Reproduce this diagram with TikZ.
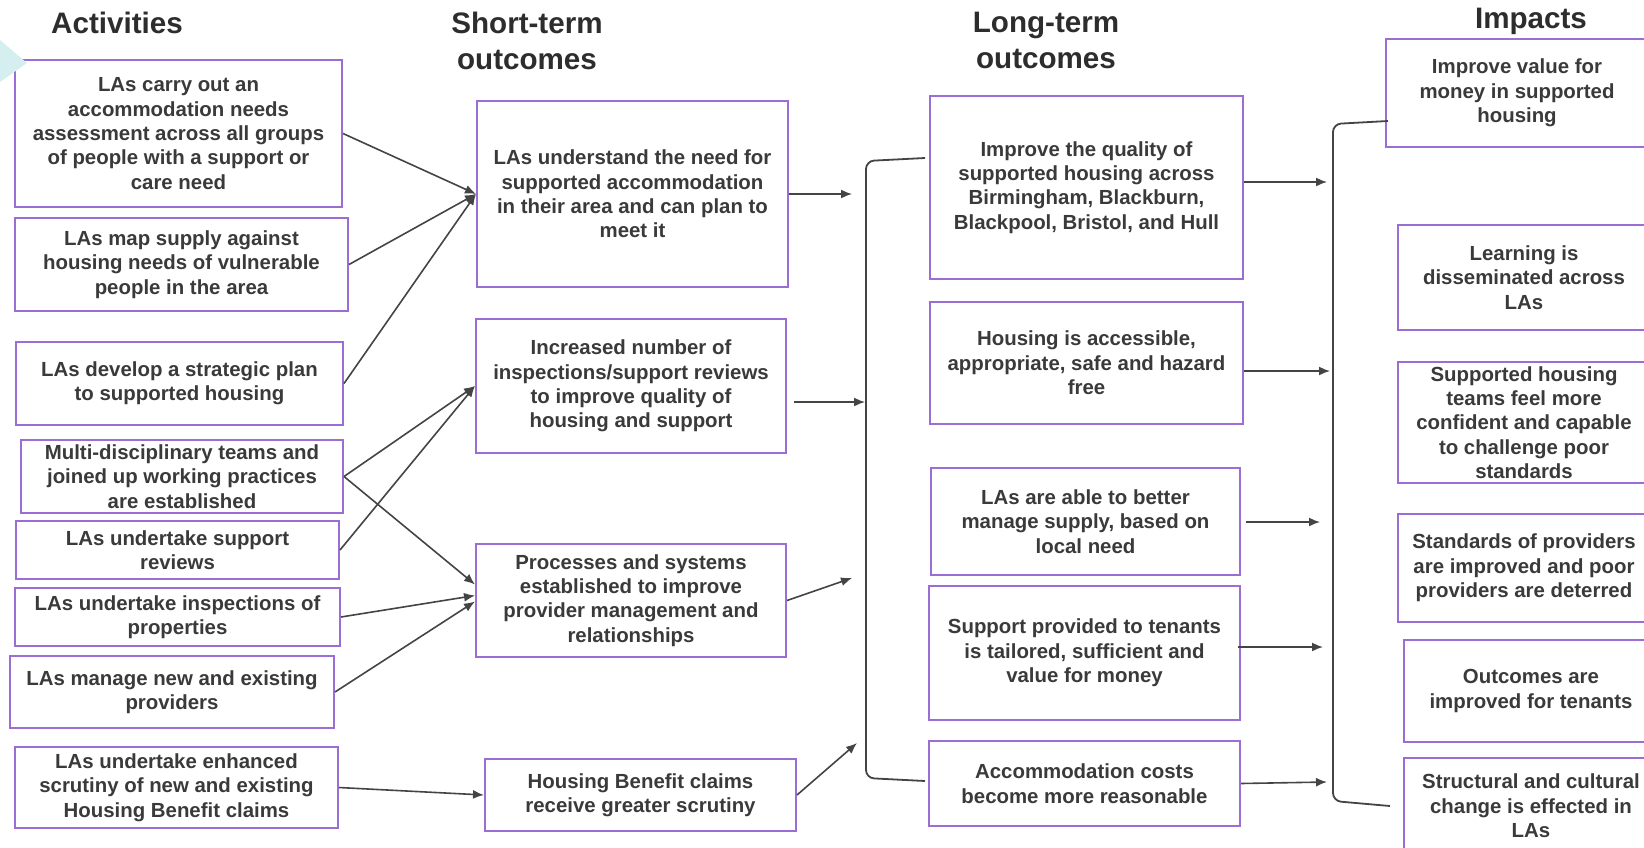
\documentclass[tikz,border=0pt]{standalone}
\usepackage{fontspec}
\setmainfont{Liberation Sans}
\usetikzlibrary{arrows.meta,calc}

\definecolor{boxline}{RGB}{155,110,214}
\definecolor{ink}{RGB}{58,58,58}
\definecolor{headink}{RGB}{45,45,45}
\definecolor{wire}{RGB}{68,68,68}
\definecolor{tabfill}{RGB}{213,238,240}

% a framed box given by its left, top, right and bottom edges (in px)
\newcommand{\tocbox}[6]{%
  \node[box, minimum width={(#4-#2)*0.5pt}, minimum height={(#5-#3)*0.5pt}]
    (#1) at ({(#2+#4)/2},{(#3+#5)/2}) {#6};}

\begin{document}
\begin{tikzpicture}[x=0.5pt,y=-0.5pt,
  box/.style={draw=boxline,line width=1pt,fill=white,align=center,inner sep=0pt,
    text=ink,font=\fontsize{10.2}{12.2}\selectfont\bfseries},
  head/.style={font=\fontsize{14.8}{18}\selectfont\bfseries,text=headink,
    align=center,inner sep=0pt,anchor=north},
  link/.style={draw=wire,line width=0.8pt,-{Latex[length=5.5pt,width=4.5pt]}},
  rail/.style={draw=wire,line width=0.9pt,rounded corners=4pt}]

\useasboundingbox (0,0) rectangle (1644,847);

% column headings
\node[head] (hact) at (117,12) {Activities};
\node[head] (hst)  at (527,12) {Short-term\\outcomes};
\node[head] (hlt)  at (1046,12) {Long-term\\outcomes};
\node[head] (himp) at (1531,8) {Impacts};

% activities
\tocbox{a1}{15}{60}{342}{207}{LAs carry out an\\accommodation needs\\assessment across all groups\\of people with a support or\\care need}
\tocbox{a2}{15}{218}{348}{311}{LAs map supply against\\housing needs of vulnerable\\people in the area}
\tocbox{a3}{16}{342}{343}{425}{LAs develop a strategic plan\\to supported housing}
\tocbox{a4}{21}{440}{343}{513}{Multi-disciplinary teams and\\joined up working practices\\are established}
\tocbox{a5}{16}{521}{339}{579}{LAs undertake support\\reviews}
\tocbox{a6}{15}{588}{340}{646}{LAs undertake inspections of\\properties}
\tocbox{a7}{10}{656}{334}{728}{LAs manage new and existing\\providers}
\tocbox{a8}{15}{747}{338}{828}{LAs undertake enhanced\\scrutiny of new and existing\\Housing Benefit claims}

% short-term outcomes
\tocbox{st1}{477}{101}{788}{287}{LAs understand the need for\\supported accommodation\\in their area and can plan to\\meet it}
\tocbox{st2}{476}{319}{786}{453}{Increased number of\\inspections/support reviews\\to improve quality of\\housing and support}
\tocbox{st3}{476}{544}{786}{657}{Processes and systems\\established to improve\\provider management and\\relationships}
\tocbox{st4}{485}{759}{796}{831}{Housing Benefit claims\\receive greater scrutiny}

% long-term outcomes
\tocbox{lt1}{930}{96}{1243}{279}{Improve the quality of\\supported housing across\\Birmingham, Blackburn,\\Blackpool, Bristol, and Hull}
\tocbox{lt2}{930}{302}{1243}{424}{Housing is accessible,\\appropriate, safe and hazard\\free}
\tocbox{lt3}{931}{468}{1240}{575}{LAs are able to better\\manage supply, based on\\local need}
\tocbox{lt4}{929}{586}{1240}{720}{Support provided to tenants\\is tailored, sufficient and\\value for money}
\tocbox{lt5}{929}{741}{1240}{826}{Accommodation costs\\become more reasonable}

% impacts
\tocbox{im1}{1386}{39}{1648}{147}{Improve value for\\money in supported\\housing}
\tocbox{im2}{1398}{225}{1650}{330}{Learning is\\disseminated across\\LAs}
\tocbox{im3}{1398}{362}{1650}{483}{Supported housing\\teams feel more\\confident and capable\\to challenge poor\\standards}
\tocbox{im4}{1398}{514}{1650}{622}{Standards of providers\\are improved and poor\\providers are deterred}
\tocbox{im5}{1404}{640}{1658}{742}{Outcomes are\\improved for tenants}
\tocbox{im6}{1404}{758}{1658}{854}{Structural and cultural\\change is effected in\\LAs}

% activities -> short-term outcomes
\draw[link] (a1.east) -- (st1.west);
\draw[link] (a2.east) -- (st1.west);
\draw[link] (a3.east) -- (st1.west);
\draw[link] (a4.east) -- (st2.west);
\draw[link] (a5.east) -- (st2.west);
\draw[link] (a4.east) -- ($(st3.west)+(0,-16)$);
\draw[link] (a6.east) -- ($(st3.west)+(0,-5)$);
\draw[link] (a7.east) -- ($(st3.west)+(0,1)$);
\draw[link] (a8.east) -- (st4.west);

% short-term outcomes -> long-term bracket
\coordinate (j1) at (852,194);
\coordinate (j2) at (865,402);
\coordinate (j3) at (852,578);
\coordinate (j4) at (857,743);
\draw[link] (st1.east) -- (j1);
\draw[link] ($(st2.east)+(7,16)$) -- (j2);
\draw[link] (st3.east) -- (j3);
\draw[link] (st4.east) -- (j4);

% bracket gathering the long-term outcomes
\coordinate (b1t) at (925,158);
\coordinate (b1b) at (925,781);
\draw[rail] (b1t) -- (866,161) -- (866,778) -- (b1b);

% long-term outcomes -> impacts bracket
\coordinate (k1) at (1327,182);
\coordinate (k2) at (1330,371);
\coordinate (k3) at (1320,522);
\coordinate (k4) at (1323,647);
\coordinate (k5) at (1327,782);
\draw[link] ($(lt1.east)+(0,-5.5)$) -- (k1);
\draw[link] ($(lt2.east)+(0,8)$) -- (k2);
\draw[link] ($(lt3.east)+(5,0.5)$) -- (k3);
\draw[link] ($(lt4.east)+(-3,-6)$) -- (k4);
\draw[link] (lt5.east) -- (k5);

% bracket gathering the impacts
\coordinate (b2t) at (1388,121);
\coordinate (b2b) at (1390,806);
\draw[rail] (b2t) -- (1333,124) -- (1333,801) -- (b2b);

% corner tab
\fill[tabfill] (0,40) -- (27,63) -- (0,82) -- cycle;

\end{tikzpicture}
\end{document}
